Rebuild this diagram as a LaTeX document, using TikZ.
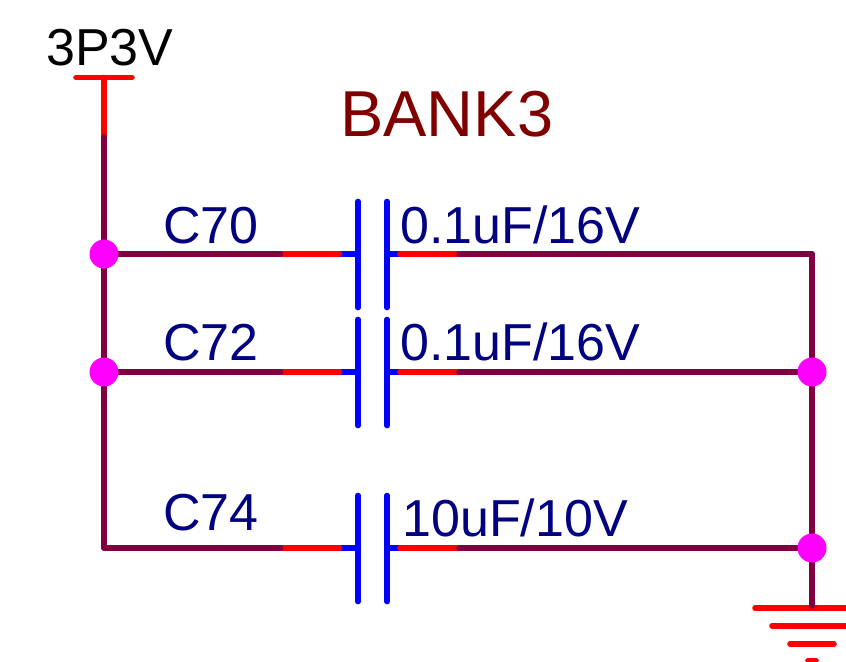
\documentclass[tikz,border=0pt]{standalone}
\usepackage{fontspec}
\setmainfont{Liberation Sans}
\definecolor{wirec}{RGB}{128,0,64}
\definecolor{pinc}{RGB}{255,0,0}
\definecolor{platec}{RGB}{0,0,255}
\definecolor{labelc}{RGB}{0,0,128}
\definecolor{titlec}{RGB}{128,0,0}
\definecolor{dotc}{RGB}{255,0,255}
\tikzset{
  wire/.style={draw=wirec,line width=4.2pt,line cap=round},
  pin/.style={draw=pinc,line width=4.2pt,line cap=round},
  plate/.style={draw=platec,line width=4.2pt,line cap=round},
  junction/.style={circle,fill=dotc,draw=none,minimum size=21.75pt,inner sep=0pt},
  lbl/.style={text=labelc,font=\fontsize{39}{39}\selectfont,anchor=base west,inner sep=0pt},
}
\newcommand{\capacitor}[2]{% name, y
  \coordinate (#1L) at (104,#2);
  \coordinate (#1a) at (280.5,#2);
  \coordinate (#1b) at (339.5,#2);
  \coordinate (#1c) at (358,#2);
  \coordinate (#1d) at (387,#2);
  \coordinate (#1e) at (400,#2);
  \coordinate (#1f) at (459,#2);
  \coordinate (#1R) at (812,#2);
  \coordinate (#1pt) at (358,#2-52.5);
  \coordinate (#1pb) at (358,#2+53.5);
  \coordinate (#1qt) at (387,#2-52.5);
  \coordinate (#1qb) at (387,#2+53.5);
  \draw[plate] (#1b) -- (#1c);
  \draw[plate] (#1d) -- (#1e);
  \draw[plate] (#1pt) -- (#1pb);
  \draw[plate] (#1qt) -- (#1qb);
  \draw[pin] (#1a) -- (#1b);
  \draw[pin] (#1e) -- (#1f);
  \draw[wire] (#1L) -- (#1a);
  \draw[wire] (#1f) -- (#1R);
}
\begin{document}
\begin{tikzpicture}[x=0.75pt,y=-0.75pt]
\useasboundingbox (0,0) rectangle (846,661);
\clip (0,0) rectangle (846,661);
% power symbol
\coordinate (pwrL) at (76,77.5);
\coordinate (pwrR) at (132,77.5);
\coordinate (pwrT) at (104,77.5);
\coordinate (pwrB) at (104,137);
\coordinate (leftEnd) at (104,548);
% ground symbol
\coordinate (gndT) at (812,606);
\coordinate (rightTop) at (812,254);
\draw[pin] (pwrT) -- (pwrB);
\draw[pin] (pwrL) -- (pwrR);
\draw[pin] (755,608) -- (872,608);
\draw[pin] (772,625.7) -- (855,625.7);
\draw[pin] (790,643.7) -- (834,643.7);
\draw[pin] (808,660.5) -- (816,660.5);
\draw[wire] (pwrB) -- (leftEnd);
\draw[wire] (rightTop) -- (gndT);
\capacitor{A}{254}
\capacitor{B}{372}
\capacitor{C}{548}
\node[junction] (j1) at (104,254) {};
\node[junction] (j2) at (104,372) {};
\node[junction] (j3) at (812,372) {};
\node[junction] (j4) at (812,548) {};
\node[lbl,text=black] (pwr) at (46,65) {3P3V};
\node[lbl,text=titlec,font=\fontsize{48.7}{48.7}\selectfont] (title) at (340,136) {BANK3};
\node[lbl] (c70) at (163,243) {C70};
\node[lbl] (v70) at (400,243) {0.1uF/16V};
\node[lbl] (c72) at (163,360) {C72};
\node[lbl] (v72) at (400,360) {0.1uF/16V};
\node[lbl] (c74) at (163,530) {C74};
\node[lbl] (v74) at (402,536) {10uF/10V};
\end{tikzpicture}
\end{document}
